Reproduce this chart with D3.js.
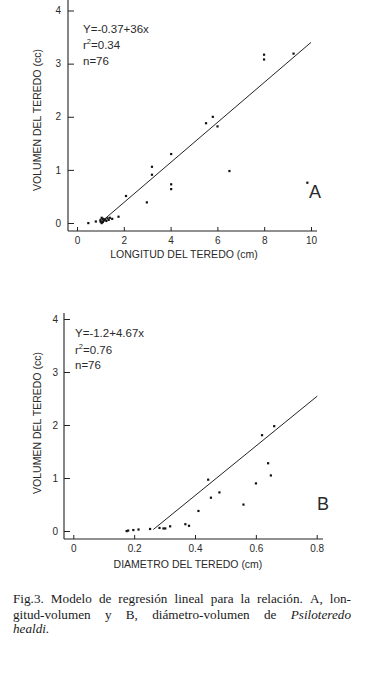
<!DOCTYPE html>
<html><head><meta charset="utf-8">
<script src="https://cdn.jsdelivr.net/npm/d3@7"></script>
<style>
html,body{margin:0;padding:0;background:#fff;}
svg{display:block;}
.ax text{font-family:"Liberation Sans",Arial,sans-serif;font-size:10px;fill:#2a2a2a;}
.ax line{stroke:#222;}
</style></head>
<body>
<svg id="c" width="365" height="679"></svg>
<script>
// ---- Data ----
const xTicksA = [0, 2, 4, 6, 8, 10];
const yTicksA = [0, 1, 2, 3, 4];
const lengthA = [0.48, 0.8, 1.0, 1.0, 1.05, 1.05, 1.1, 1.1, 1.15, 1.2, 1.25, 1.3, 1.35, 1.4, 1.5, 1.77, 2.09, 2.98, 3.2, 3.2, 4.02, 4.02, 4.02, 5.51, 5.8, 6.0, 6.51, 7.99, 7.99, 9.25, 9.84];
const volumeA = [0.0, 0.03, 0.03, 0.06, 0.1, 0.0, 0.02, 0.08, 0.05, 0.07, 0.04, 0.09, 0.06, 0.1, 0.08, 0.12, 0.51, 0.39, 1.06, 0.91, 1.30, 0.73, 0.64, 1.88, 2.0, 1.82, 0.98, 3.17, 3.08, 3.19, 0.76];
const fitXA = [1.0, 10];
const fitYA = [-0.37 + 0.377 * 1.0, -0.37 + 0.377 * 10];
const statsA = ["Y=-0.37+36x", "0.34", "n=76"];

const xTicksB = [0, 0.2, 0.4, 0.6, 0.8];
const yTicksB = [0, 1, 2, 3, 4];
const diamB = [0.175, 0.18, 0.197, 0.214, 0.252, 0.283, 0.296, 0.302, 0.318, 0.368, 0.38, 0.411, 0.443, 0.452, 0.48, 0.559, 0.6, 0.62, 0.64, 0.649, 0.66];
const volumeB = [0.0, 0.01, 0.02, 0.03, 0.04, 0.06, 0.05, 0.05, 0.09, 0.13, 0.1, 0.38, 0.97, 0.63, 0.73, 0.5, 0.9, 1.81, 1.28, 1.05, 1.98];
const fitXB = [0.263, 0.802];
const fitYB = [-1.2 + 4.67 * 0.263, -1.2 + 4.67 * 0.802];
const statsB = ["Y=-1.2+4.67x", "0.76", "n=76"];

const captionLines = [
  [["Fig.3.", 0], ["Modelo", 0], ["de", 0], ["regresión", 0], ["lineal", 0], ["para", 0], ["la", 0], ["relación.", 0], ["A,", 0], ["lon-", 0]],
  [["gitud-volumen", 0], ["y", 0], ["B,", 0], ["diámetro-volumen", 0], ["de", 0], ["Psiloteredo", 1]],
  [["healdi.", 1]]
];

const svg = d3.select("#c");
const ink = "#222";
const sans = '"Liberation Sans",Arial,sans-serif';

function panel(o) {
  const x = d3.scaleLinear().domain(o.xDom).range(o.xRange);
  const y = d3.scaleLinear().domain([0, 4]).range(o.yRange);
  const g = svg.append("g");
  // axis lines
  g.append("line").attr("x1", o.axX).attr("x2", o.axX).attr("y1", o.axTop).attr("y2", o.axY)
    .attr("stroke", ink).attr("stroke-width", 1.1);
  g.append("line").attr("x1", o.axX).attr("x2", o.axRight).attr("y1", o.axY).attr("y2", o.axY)
    .attr("stroke", ink).attr("stroke-width", 1.1);
  const ya = g.append("g").attr("class", "ax").attr("transform", `translate(${o.axX},0)`)
    .call(d3.axisLeft(y).tickValues(o.yTicks).tickSizeInner(-6).tickSizeOuter(0).tickPadding(o.yPad).tickFormat(d3.format("d")));
  ya.select(".domain").remove();
  const xa = g.append("g").attr("class", "ax").attr("transform", `translate(0,${o.axY})`)
    .call(d3.axisBottom(x).tickValues(o.xTicks).tickSizeInner(-4).tickSizeOuter(0).tickPadding(6).tickFormat(o.xFmt));
  xa.select(".domain").remove();
  // titles
  g.append("text").attr("x", o.xTitleX).attr("y", o.xTitleY).attr("text-anchor", "middle")
    .attr("font-family", sans).attr("font-size", 10.5).attr("fill", "#2a2a2a").text(o.xTitle);
  g.append("text").attr("transform", `translate(${o.yTitleX},${o.yTitleY}) rotate(-90)`).attr("text-anchor", "middle")
    .attr("font-family", sans).attr("font-size", 10.5).attr("fill", "#2a2a2a").text("VOLUMEN DEL TEREDO (cc)");
  // fit line
  g.append("line").attr("x1", x(o.fitX[0])).attr("y1", y(o.fitY[0])).attr("x2", x(o.fitX[1])).attr("y2", y(o.fitY[1]))
    .attr("stroke", ink).attr("stroke-width", 1);
  // points
  g.selectAll("rect.pt").data(o.xs.map((d, i) => [d, o.ys[i]])).join("rect").attr("class", "pt")
    .attr("x", d => x(d[0]) - 1).attr("y", d => y(d[1]) - 1).attr("width", 2.2).attr("height", 2.2).attr("fill", "#111");
  // stats
  const st = g.append("g").attr("font-family", sans).attr("font-size", 11.5).attr("fill", "#2a2a2a");
  st.append("text").attr("x", o.stX).attr("y", o.stY[0]).text(o.stats[0]);
  const r2 = st.append("text").attr("x", o.stX).attr("y", o.stY[1]);
  r2.append("tspan").text("r");
  r2.append("tspan").attr("font-size", 7.5).attr("dy", -5).text("2");
  r2.append("tspan").attr("dy", 5).text("=" + o.stats[1]);
  st.append("text").attr("x", o.stX).attr("y", o.stY[2]).text(o.stats[2]);
  // panel letter
  g.append("text").attr("x", o.letX).attr("y", o.letY).attr("text-anchor", "middle")
    .attr("font-family", sans).attr("font-size", 18).attr("fill", "#2a2a2a").text(o.letter);
}

panel({
  xDom: [0, 10], xRange: [77, 311], yRange: [223, 10.5],
  axX: 68, axTop: 0, axY: 231, axRight: 317,
  yTicks: yTicksA, xTicks: xTicksA, yPad: 7, xFmt: d3.format("d"),
  xTitle: "LONGITUD DEL TEREDO (cm)", xTitleX: 184, xTitleY: 258,
  yTitleX: 41, yTitleY: 120,
  fitX: fitXA, fitY: fitYA, xs: lengthA, ys: volumeA,
  stats: statsA, stX: 83, stY: [32.5, 49, 65],
  letter: "A", letX: 315, letY: 198
});

panel({
  xDom: [0, 0.8], xRange: [73.3, 316.7], yRange: [531, 319],
  axX: 64, axTop: 313, axY: 539, axRight: 323,
  yTicks: yTicksB, xTicks: xTicksB, yPad: 6, xFmt: d => d === 0 ? "0" : d3.format(".1f")(d),
  xTitle: "DIAMETRO DEL TEREDO (cm)", xTitleX: 188, xTitleY: 568,
  yTitleX: 41, yTitleY: 423,
  fitX: fitXB, fitY: fitYB, xs: diamB, ys: volumeB,
  stats: statsB, stX: 75, stY: [337, 353.5, 369],
  letter: "B", letX: 323, letY: 510
});

// caption, justified word by word
const capG = svg.append("g").attr("font-family", '"Liberation Serif","Times New Roman",serif').attr("font-size", 13.2).attr("fill", "#1a1a1a");
const baseY = [603, 618.5, 633], left = 13, right = 351;
captionLines.forEach((words, li) => {
  const nodes = words.map(w => capG.append("text").attr("y", baseY[li]).attr("font-style", w[1] ? "italic" : "normal").text(w[0]));
  const widths = nodes.map(n => n.node().getComputedTextLength());
  const total = d3.sum(widths);
  const justify = li < captionLines.length - 1 && words.length > 1;
  const gap = justify ? (right - left - total) / (words.length - 1) : 3.3;
  let cx = left;
  nodes.forEach((n, i) => { n.attr("x", cx); cx += widths[i] + gap; });
});
</script>
</body></html>
